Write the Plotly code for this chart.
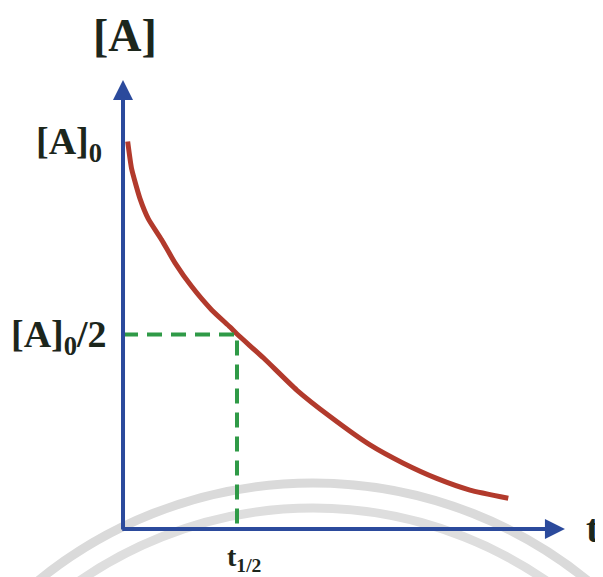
import plotly.graph_objects as go

# Data (t in units of t1/2, [A] in units of [A]0)
t_vals = [0.041, 0.076, 0.149, 0.222, 0.339, 0.456, 0.603, 0.778, 0.939, 1.0,
          1.231, 1.524, 1.816, 2.167, 2.459, 2.752, 3.044, 3.380]
a_vals = [0.996, 0.925, 0.849, 0.797, 0.743, 0.684, 0.623, 0.563, 0.519, 0.501,
          0.440, 0.357, 0.289, 0.216, 0.169, 0.130, 0.100, 0.079]
t_half = 1.0
a_half = 0.5
x_axis_end = 3.877
y_axis_end = 1.154

# page has an 8px body margin: figure covers page pixels 8..603 x 8..577
OFF = 8
W, H = 595, 569
X_RANGE = [-1.009, 4.211]
Y_RANGE = [-0.1234, 1.339]

BLUE = "#2b4a9c"
RED = "#b23a2c"
GREEN = "#2f9a47"
TXT = "#1c261c"
FONT = "Liberation Serif"

fig = go.Figure()

# decay curve
fig.add_trace(go.Scatter(x=t_vals, y=a_vals, mode="lines",
                         line=dict(color=RED, width=5, shape="spline", smoothing=0.5),
                         hoverinfo="skip", showlegend=False))
# dashed guides
fig.add_trace(go.Scatter(x=[0, t_half, t_half], y=[a_half, a_half, 0], mode="lines",
                         line=dict(color=GREEN, width=4, dash="15px,9px"),
                         hoverinfo="skip", showlegend=False))

def px(p):
    return (p - OFF) / W

def py(p):
    return 1 - (p - OFF) / H

# watermark arcs
for r, col in [(435, "#dadada"), (410, "#dedede")]:
    cx, cy = 313, 918
    fig.add_shape(type="circle", xref="paper", yref="paper",
                  x0=px(cx - r), x1=px(cx + r),
                  y0=py(cy + r), y1=py(cy - r),
                  line=dict(color=col, width=9), layer="below")

# axes with arrows
fig.add_annotation(x=0, y=y_axis_end, ax=0, ay=-0.005, xref="x", yref="y",
                   axref="x", ayref="y", showarrow=True, arrowhead=2,
                   arrowsize=1, arrowwidth=4, arrowcolor=BLUE, text="")
fig.add_annotation(x=x_axis_end, y=0, ax=-0.02, ay=0, xref="x", yref="y",
                   axref="x", ayref="y", showarrow=True, arrowhead=2,
                   arrowsize=1, arrowwidth=4, arrowcolor=BLUE, text="")

def label(text, x, y, size, xanchor="center"):
    fig.add_annotation(x=px(x), y=py(y), xref="paper", yref="paper",
                       text=text, showarrow=False, xanchor=xanchor, yanchor="middle",
                       font=dict(family=FONT, size=size, color=TXT))

label("<b>[A]</b>", 125, 36, 46)
label("<b>[A]<sub>0</sub></b>", 104, 144, 38, "right")
label("<b>[A]<sub>0</sub>/2</b>", 109, 337, 38, "right")
label("<b>t<sub>1/2</sub></b>", 225, 558, 28, "left")
label("<b>t</b>", 584, 528, 40, "left")

fig.update_layout(
    width=W, height=H, margin=dict(l=0, r=0, t=0, b=0),
    paper_bgcolor="white", plot_bgcolor="white",
    xaxis=dict(range=X_RANGE, visible=False, fixedrange=True),
    yaxis=dict(range=Y_RANGE, visible=False, fixedrange=True),
    showlegend=False,
)

fig.write_html("out.html")
